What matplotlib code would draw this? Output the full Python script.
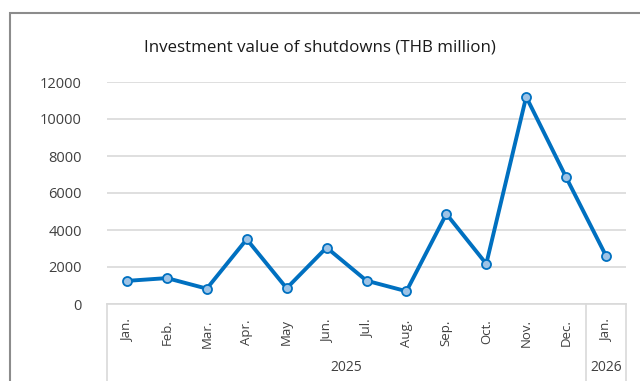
import matplotlib.pyplot as plt
from matplotlib.patches import Rectangle
from matplotlib.lines import Line2D

months = ['Jan.', 'Feb.', 'Mar.', 'Apr.', 'May', 'Jun.', 'Jul.', 'Aug.',
          'Sep.', 'Oct.', 'Nov.', 'Dec.', 'Jan.']
values = [1250, 1400, 830, 3500, 850, 3050, 1260, 690,
          4870, 2170, 11200, 6850, 2600]
years = ['2025', '2026']
year_counts = [12, 1]

plt.rcParams['font.family'] = ['Open Sans', 'DejaVu Sans']

fig = plt.figure(figsize=(6.4, 3.81), dpi=100)
# outer chart frame (cropped at right/bottom)
fig.patches.append(Rectangle((10 / 640, -0.1), 1.0, 1 - 13 / 381 + 0.1,
                             transform=fig.transFigure, fill=False,
                             edgecolor='#8c8c8c', lw=1.5))

ax = fig.add_axes([107 / 640, 1 - 304 / 381, (626 - 107) / 640, (304 - 82) / 381])
x = list(range(len(values)))
ax.plot(x, values, color='#0070C0', lw=2.8, marker='o', ms=6.5,
        mfc='#9DC3E6', mec='#0070C0', mew=1.3, zorder=3, clip_on=False)

ax.set_xlim(-0.5, len(values) - 0.5)
ax.set_ylim(0, 12000)
ax.set_yticks(range(0, 12001, 2000))
ax.grid(axis='y', color='#d9d9d9', lw=1.2)
ax.set_axisbelow(True)
for s in ['top', 'right', 'left']:
    ax.spines[s].set_visible(False)
ax.spines['bottom'].set_color('#d9d9d9')
ax.spines['bottom'].set_linewidth(1.2)
ax.tick_params(axis='y', length=0, labelsize=10.5, labelcolor='#404040', pad=18)
ax.set_xticks(x)
ax.set_xticklabels(months, rotation=90, va='top', ha='center',
                   fontsize=9.5, color='#404040')
ax.tick_params(axis='x', length=0, pad=11)

# category group boxes below axis
trans = ax.get_xaxis_transform()
bounds = [-0.5]
for c in year_counts:
    bounds.append(bounds[-1] + c)
for b in bounds:
    ax.add_line(Line2D([b, b], [0, -0.45], transform=trans, color='#d9d9d9',
                       lw=1.2, clip_on=False))
for i, yr in enumerate(years):
    ax.text((bounds[i] + bounds[i + 1]) / 2, -0.285, yr, transform=trans,
            ha='center', va='center', fontsize=10, color='#404040')

fig.text(320 / 640, 1 - 47 / 381, 'Investment value of shutdowns (THB million)',
         ha='center', va='center', fontsize=12.2, color='#1a1a1a')

fig.savefig('out.png', dpi=100)
